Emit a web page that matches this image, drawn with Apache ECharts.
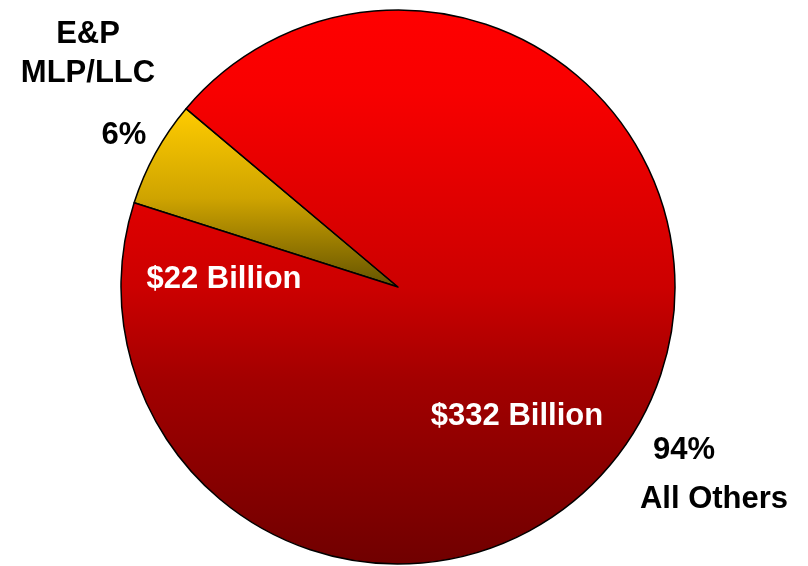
<!DOCTYPE html>
<html>
<head>
<meta charset="utf-8">
<script src="https://cdn.jsdelivr.net/npm/echarts@6/dist/echarts.min.js"></script>
<style>
  html, body { margin: 0; padding: 0; background: #ffffff; }
  #chart { width: 808px; height: 566px; }
</style>
</head>
<body>
<div id="chart"></div>
<script>
// Segment names, amounts in $ billions, and the caption lines for each
const segments = ['E&P MLP/LLC', 'All Others'];
const amounts = [22, 332];
const nameLines = [['E&P', 'MLP/LLC'], ['All Others']];

const total = amounts.reduce((a, b) => a + b, 0);
const pct = amounts.map(v => Math.round(v / total * 100) + '%');
const money = amounts.map(v => '$' + v + ' Billion');

const font = '"Liberation Sans", Arial, sans-serif';

function caption(text, x, y, color) {
  return {
    type: 'text',
    x: x, y: y,
    z: 100,
    zlevel: 1,
    silent: true,
    style: {
      text: text,
      fill: color,
      font: 'bold 31px ' + font,
      align: 'center',
      verticalAlign: 'middle'
    }
  };
}

const fills = [
  { type: 'linear', x: 0, y: 0, x2: 0, y2: 1, colorStops: [
    { offset: 0, color: '#ffcc00' },
    { offset: 0.5, color: '#cfa400' },
    { offset: 1, color: '#635200' }
  ]},
  { type: 'linear', x: 0, y: 0, x2: 0, y2: 1, colorStops: [
    { offset: 0, color: '#ff0000' },
    { offset: 0.15, color: '#f80000' },
    { offset: 0.5, color: '#cc0000' },
    { offset: 0.67, color: '#a20000' },
    { offset: 1, color: '#700000' }
  ]}
];

const chart = echarts.init(document.getElementById('chart'), null, { renderer: 'canvas' });
chart.setOption({
  backgroundColor: '#ffffff',
  animation: false,
  series: [{
    type: 'pie',
    center: [398, 287],
    radius: 277,
    startAngle: 162.3,
    clockwise: true,
    label: { show: false },
    labelLine: { show: false },
    emphasis: { disabled: true },
    itemStyle: { borderColor: '#000000', borderWidth: 1.5 },
    data: segments.map((n, i) => ({
      name: n,
      value: amounts[i],
      itemStyle: { color: fills[i] }
    }))
  }],
  graphic: [
    caption(nameLines[0][0], 88, 34, '#000000'),
    caption(nameLines[0][1], 88, 73, '#000000'),
    caption(pct[0], 124, 135, '#000000'),
    caption(money[0], 224, 279, '#ffffff'),
    caption(money[1], 517, 416, '#ffffff'),
    caption(pct[1], 684, 450, '#000000'),
    caption(nameLines[1][0], 714, 499, '#000000')
  ]
});
</script>
</body>
</html>
